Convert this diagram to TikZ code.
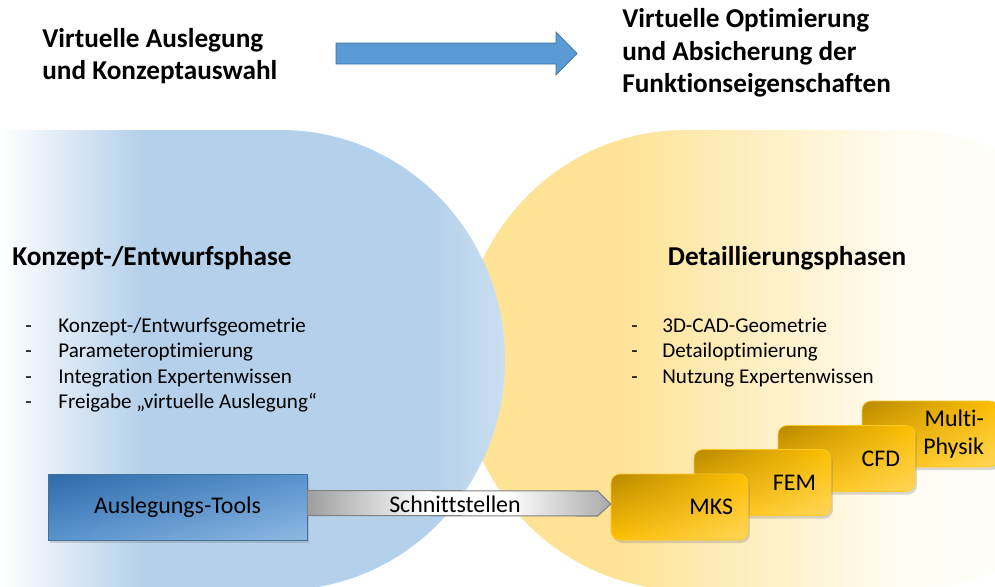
\documentclass[tikz,border=0pt]{standalone}
\usepackage{fontspec}
\setmainfont[Ligatures=NoCommon]{Carlito}
\usepackage{tikz}
\usetikzlibrary{positioning,calc,shadows,shadings}

\definecolor{bluefill}{RGB}{181,208,234}
\definecolor{bluelight}{RGB}{203,222,241}
\definecolor{yellowfill}{RGB}{254,227,150}
\definecolor{arrowblue}{RGB}{91,155,213}
\definecolor{arrowedge}{RGB}{65,113,156}
\definecolor{tooldark}{RGB}{46,107,168}
\definecolor{toolmid}{RGB}{88,147,206}
\definecolor{toollight}{RGB}{143,184,226}
\definecolor{golddark}{RGB}{184,137,0}
\definecolor{goldmid}{RGB}{255,192,0}
\definecolor{goldlight}{RGB}{255,214,90}
\definecolor{goldedge}{RGB}{255,200,40}
\definecolor{grayleft}{RGB}{158,158,158}
\definecolor{grayright}{RGB}{170,170,170}
\definecolor{grayedge}{RGB}{128,128,128}

\pgfdeclarehorizontalshading{bluephase}{100bp}{color(0bp)=(white); color(25bp)=(white); color(39bp)=(bluefill); color(68bp)=(bluefill); color(75bp)=(bluelight); color(100bp)=(bluelight)}
\pgfdeclarehorizontalshading{detailphase}{100bp}{color(0bp)=(yellowfill); color(25bp)=(yellowfill); color(37bp)=(yellowfill); color(58bp)=(yellowfill!12); color(75bp)=(white); color(100bp)=(white)}
\pgfdeclarehorizontalshading{schnitt}{100bp}{color(0bp)=(grayleft); color(25bp)=(grayleft); color(45bp)=(white); color(58bp)=(white); color(75bp)=(grayright); color(100bp)=(grayright)}

\begin{document}
\begin{tikzpicture}[x=0.02cm, y=-0.02cm,
  title/.style={font=\fontsize{15.5}{18.6}\selectfont\bfseries, align=left, inner sep=0pt},
  phase/.style={font=\fontsize{15.5}{18.6}\selectfont\bfseries, inner sep=0pt},
  itemlist/.style={font=\fontsize{12}{14.6}\selectfont, align=left, inner sep=0pt},
  toolbox/.style={draw=arrowedge, minimum width=5.18cm, minimum height=1.32cm, inner sep=0pt,
    upper left=tooldark, upper right=toolmid, lower left=toolmid, lower right=toollight,
    drop shadow={opacity=0.3, shadow xshift=0.04cm, shadow yshift=-0.06cm},
    font=\fontsize{13.6}{16}\selectfont},
  simbox/.style={draw=goldedge, rounded corners=0.18cm, minimum height=1.32cm,
    text width=2.14cm, inner xsep=0.3cm, inner ysep=0pt, align=right,
    upper left=golddark, upper right=goldmid, lower left=goldmid, lower right=goldlight,
    drop shadow={opacity=0.3, shadow xshift=0.04cm, shadow yshift=-0.06cm},
    font=\fontsize{13.6}{16}\selectfont}]
  \useasboundingbox (0,0) rectangle (995,586);

  % Phase areas
  \shade[shading=detailphase]
    (685,130) -- (905,130) arc[start angle=-90, end angle=90, x radius=225, y radius=230]
    -- (685,590) arc[start angle=90, end angle=270, x radius=225, y radius=230] -- cycle;
  \shade[shading=bluephase]
    (0,130) -- (281,130) arc[start angle=-90, end angle=90, x radius=224, y radius=230]
    -- (0,590) -- cycle;

  % Headline
  \node[title, anchor=west] (auslegung) at (42,56) {Virtuelle Auslegung\\und Konzeptauswahl};
  \node[title, anchor=west] (optimierung) at (622,53) {Virtuelle Optimierung\\und Absicherung der\\Funktionseigenschaften};
  \filldraw[fill=arrowblue, draw=arrowedge, line width=0.4pt]
    (336,43) -- (556,43) -- (556,32) -- (577,53.5) -- (556,75) -- (556,64) -- (336,64) -- cycle;

  % Phase titles and items
  \node[phase, anchor=west] (konzept) at (12,258) {Konzept-/Entwurfsphase};
  \node[phase] (detail) at (787,258) {Detaillierungsphasen};

  \node[itemlist, anchor=west] (konzeptitems) at (25,365)
    {\makebox[0.66cm][l]{-}Konzept-/Entwurfsgeometrie\\
     \makebox[0.66cm][l]{-}Parameteroptimierung\\
     \makebox[0.66cm][l]{-}Integration Expertenwissen\\
     \makebox[0.66cm][l]{-}Freigabe „virtuelle Auslegung“};
  \node[itemlist, anchor=west] (detailitems) at (631,352.5)
    {\makebox[0.62cm][l]{-}3D-CAD-Geometrie\\
     \makebox[0.62cm][l]{-}Detailoptimierung\\
     \makebox[0.62cm][l]{-}Nutzung Expertenwissen};

  % Tools
  \node[toolbox] (tools) at (177.5,507) {Auslegungs-Tools};

  \node[simbox] (multi) at (930.5,434) {Multi-\\Physik};
  \node[simbox] (cfd) at (846.5,458.5) {CFD};
  \node[simbox] (fem) at (762.5,482.5) {FEM};
  \node[simbox] (mks) at (679.5,507) {MKS};

  % Interface arrow
  \shade[shading=schnitt, draw=grayedge, line width=0.6pt]
    ($(tools.east)+(0,-16.5)$) -- ($(mks.west)+(-13,-16)$) -- ($(mks.west)+(0,-3)$)
    -- ($(mks.west)+(-13,9)$) -- ($(tools.east)+(0,8.5)$) -- cycle;
  \node[font=\fontsize{13.6}{16}\selectfont, inner sep=0pt] (schnitt) at (455,504) {Schnittstellen};
\end{tikzpicture}
\end{document}
